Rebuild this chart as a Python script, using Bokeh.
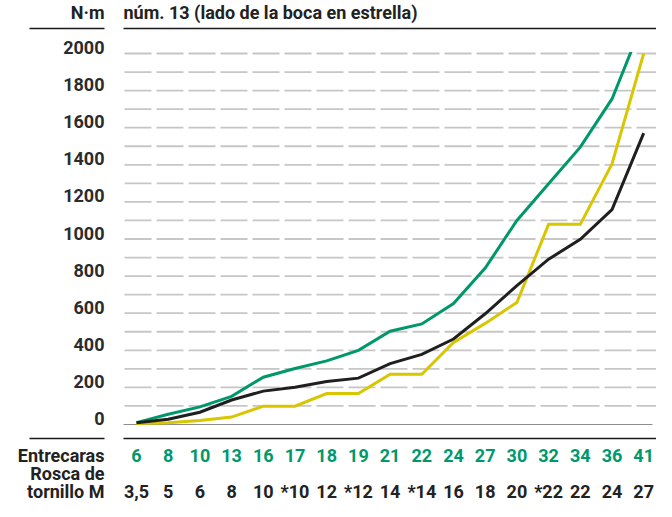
from bokeh.plotting import figure
from bokeh.embed import file_html
from bokeh.resources import INLINE
from bokeh.core.properties import value
from bokeh.models import Range1d

# ---------------- data ----------------
entrecaras = ["6", "8", "10", "13", "16", "17", "18", "19", "21", "22",
              "24", "27", "30", "32", "34", "36", "41"]
rosca = ["3,5", "5", "6", "8", "10", "*10", "12", "*12", "14", "*14",
         "16", "18", "20", "*22", "22", "24", "27"]
green_vals = [10, 55, 95, 152, 255, 302, 343, 400, 503, 542,
              652, 843, 1100, 1298, 1495, 1755, 2180]
black_vals = [10, 28, 66, 132, 180, 201, 232, 250, 328, 378,
              461, 597, 749, 891, 998, 1158, 1571]
yellow_vals = [5, 10, 21, 40, 99, 99, 167, 167, 271, 271,
               442, 545, 658, 1079, 1079, 1405, 2000]
y_ticks = list(range(0, 2001, 200))
grid_levels = list(range(100, 2001, 100))
y_max = 2000
title_text = "núm. 13 (lado de la boca en estrella)"
unit_text = "N·m"
row_heads = ["Entrecaras", "Rosca de", "tornillo M"]

# ---------------- geometry ----------------
W, H = 656, 501
X0 = 136.0      # px of first category from left
DX = 31.7       # px per category
Y0 = 424.0      # px of value 0 from top
PPU = 371.0 / 2000.0  # px per N·m

x_start = -X0 / DX
x_end = (W - X0) / DX
y_end = Y0 / PPU
y_start = -(H - Y0) / PPU


def dx(px):
    return px / DX


def dy(px):
    return px / PPU


idx = list(range(len(entrecaras)))

FONT = value("Roboto")
FS = "18px"
GREEN = "#00986a"
BLACK = "#1f1f1f"
YELLOW = "#d8c600"
GRID = "#c6c6c6"

p = figure(width=W, height=H,
           x_range=Range1d(x_start, x_end), y_range=Range1d(y_start, y_end),
           x_axis_location=None, y_axis_location=None,
           output_backend="svg", toolbar_location=None, min_border=0)
p.grid.visible = False
p.outline_line_color = None
p.background_fill_color = "white"
p.border_fill_color = "white"

# dashed grid lines
n = len(grid_levels)
p.segment(x0=[dx(-12)] * n, y0=grid_levels, x1=[x_end] * n, y1=grid_levels,
          line_color=GRID, line_width=1.8, line_dash="27 5")
# zero line
p.segment(x0=[dx(-13)], y0=[0], x1=[x_end - dx(4)], y1=[0],
          line_color="#8c8c8c", line_width=1.2)

# series
for vals, col in ((green_vals, GREEN), (yellow_vals, YELLOW), (black_vals, BLACK)):
    p.line(x=idx, y=vals, line_color=col, line_width=3, line_join="miter")

# mask above the top of the value scale
p.quad(left=[x_start], right=[x_end], bottom=[y_max + dy(1.5)], top=[y_end],
       fill_color="white", line_color=None)

# black rules
top_rule = y_max + dy(25)
bot_rule = -dy(14)
p.segment(x0=[dx(-107), dx(-13), dx(-107), dx(-13)],
          y0=[top_rule, top_rule, bot_rule, bot_rule],
          x1=[dx(-32), x_end, dx(-32), x_end],
          y1=[top_rule, top_rule, bot_rule, bot_rule],
          line_color="#1a1a1a", line_width=1.6)

# y tick labels
p.text(x=[0] * len(y_ticks), y=y_ticks, text=[str(v) for v in y_ticks],
       x_offset=-32, y_offset=-6, text_align="right", text_baseline="middle",
       text_font=FONT, text_font_style="bold", text_font_size=FS, text_color="#2b2b2b")

# header texts
p.text(x=[0], y=[y_max], text=[unit_text], x_offset=-32, y_offset=-41,
       text_align="right", text_baseline="middle",
       text_font=FONT, text_font_style="bold", text_font_size=FS, text_color="#222222")
p.text(x=[0], y=[y_max], text=[title_text], x_offset=-13, y_offset=-41,
       text_align="left", text_baseline="middle",
       text_font=FONT, text_font_style="bold", text_font_size=FS, text_color="#222222")

# bottom rows
p.text(x=idx, y=[0] * len(idx), text=entrecaras, y_offset=31,
       text_align="center", text_baseline="middle",
       text_font=FONT, text_font_style="bold", text_font_size=FS, text_color=GREEN)
p.text(x=idx, y=[0] * len(idx), text=rosca, y_offset=67,
       text_align="center", text_baseline="middle",
       text_font=FONT, text_font_style="bold", text_font_size=FS, text_color="#222222")
p.text(x=[0] * 3, y=[0] * 3, text=row_heads, x_offset=-32, y_offset=[31, 49, 67],
       text_align="right", text_baseline="middle",
       text_font=FONT, text_font_style="bold", text_font_size=FS, text_color="#222222")

open("out.html", "w").write(file_html(p, INLINE))
